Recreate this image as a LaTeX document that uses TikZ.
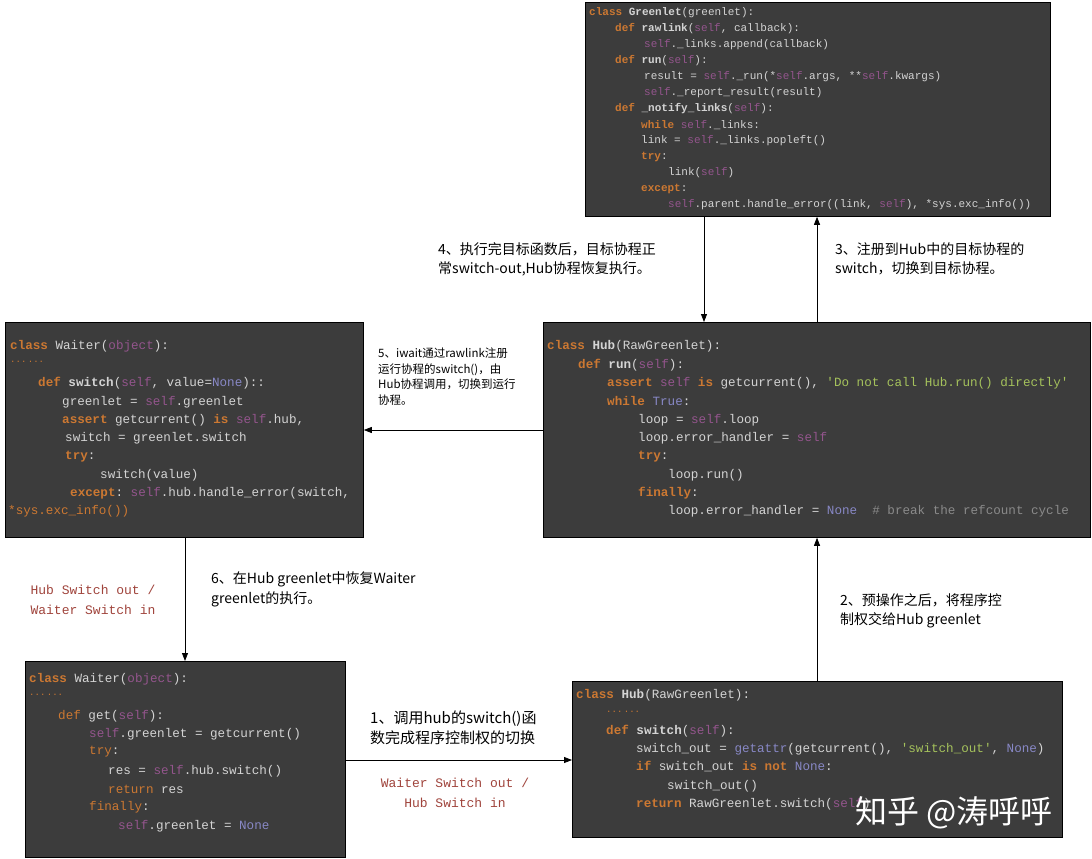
\documentclass[tikz,border=0pt]{standalone}
\usepackage{fontspec}
\setmonofont{Liberation Mono}
\newfontfamily\cjk{Noto Sans CJK SC}
\usetikzlibrary{arrows.meta}
\definecolor{bg}{HTML}{3C3C3C}
\definecolor{kw}{HTML}{CC7832}
\definecolor{sl}{HTML}{94558D}
\definecolor{nn}{HTML}{8888C6}
\definecolor{st}{HTML}{A5C25C}
\definecolor{cm}{HTML}{8A8A8A}
\definecolor{fg}{HTML}{D4D4D4}
\definecolor{lb}{HTML}{A0443C}
\newcommand\K[1]{\textcolor{kw}{\bfseries #1}}
\newcommand\Ko[1]{\textcolor{kw}{#1}}
\newcommand\SL{\textcolor{sl}{self}}
\newcommand\NN{\textcolor{nn}{None}}
\newcommand\DOTS{\textcolor{kw}{\fontsize{9}{9}\selectfont...\,...}}
\newcommand\cl[3]{\node[codeline] at (#1,#2) {#3};}
\begin{document}
\begin{tikzpicture}[x=1pt,y=-1pt,
  box/.style={draw=black,fill=bg,anchor=north west,inner sep=0,line width=0.8pt},
  codeline/.style={anchor=west,inner sep=0,text=fg,font=\ttfamily\fontsize{12.6}{14}\selectfont},
  small/.style={codeline/.append style={font=\ttfamily\fontsize{11}{13}\selectfont}},
  arr/.style={-{Triangle[length=8pt,width=6pt]},line width=0.8pt},
  lab/.style={anchor=north west,inner sep=0,align=left,font=\cjk\fontsize{14}{19.5}\selectfont},
  red/.style={inner sep=0,align=center,text=lb,font=\ttfamily\fontsize{13}{20}\selectfont}]
\useasboundingbox (0,0) rectangle (1092,859);
\fill[white] (0,0) rectangle (1092,859);
% boxes
\node[box,minimum width=465pt,minimum height=214pt] (gl) at (585,2) {};
\node[box,minimum width=358pt,minimum height=215pt] (w1) at (5,322) {};
\node[box,minimum width=547pt,minimum height=215pt] (hr) at (543,322) {};
\node[box,minimum width=320pt,minimum height=196pt] (w2) at (25,661) {};
\node[box,minimum width=490pt,minimum height=156pt] (hs) at (572,681) {};
% Greenlet code
\begin{scope}[small]
\cl{589}{13}{\K{class} \textbf{Greenlet}(greenlet):}
\cl{615}{29}{\K{def} \textbf{rawlink}(\SL, callback):}
\cl{644}{45}{\SL.\_links.append(callback)}
\cl{615}{61}{\K{def} \textbf{run}(\SL):}
\cl{644}{77}{result = \SL.\_run(*\SL.args, **\SL.kwargs)}
\cl{644}{93}{\SL.\_report\_result(result)}
\cl{615}{109}{\K{def} \textbf{\_notify\_links}(\SL):}
\cl{641}{125}{\K{while} \SL.\_links:}
\cl{641}{141}{link = \SL.\_links.popleft()}
\cl{641}{157}{\K{try}:}
\cl{668}{173}{link(\SL)}
\cl{641}{189}{\K{except}:}
\cl{668}{205}{\SL.parent.handle\_error((link, \SL), *sys.exc\_info())}
\end{scope}
% Waiter switch
\cl{10}{346}{\K{class} Waiter(\textcolor{sl}{object}):}
\cl{10}{362}{\DOTS}
\cl{38}{383}{\K{def} \textbf{switch}(\SL, value=\NN)::}
\cl{62}{402}{greenlet = \SL.greenlet}
\cl{62}{420}{\K{assert} getcurrent() \K{is} \SL.hub,}
\cl{65}{438}{switch = greenlet.switch}
\cl{65}{457}{\K{try}:}
\cl{100}{475}{switch(value)}
\cl{70}{493}{\K{except}: \SL.hub.handle\_error(switch,}
\cl{8}{511}{\textcolor{kw}{*sys.exc\_info())}}
% Hub run
\cl{547}{346}{\K{class} \textbf{Hub}(RawGreenlet):}
\cl{578}{365}{\K{def} \textbf{run}(\SL):}
\cl{607}{383}{\K{assert} \SL{} \K{is} getcurrent(), \textcolor{st}{'Do not call Hub.run() directly'}}
\cl{607}{401}{\K{while} \textcolor{nn}{True}:}
\cl{638}{420}{loop = \SL.loop}
\cl{638}{438}{loop.error\_handler = \SL}
\cl{638}{457}{\K{try}:}
\cl{668}{475}{loop.run()}
\cl{638}{493}{\K{finally}:}
\cl{668}{511}{loop.error\_handler = \NN\ \ \textcolor{cm}{\# break the refcount cycle}}
% Waiter get
\cl{29}{679}{\K{class} Waiter(\textcolor{sl}{object}):}
\cl{29}{695}{\DOTS}
\cl{58}{716}{\Ko{def} get(\SL):}
\cl{89}{734}{\SL.greenlet = getcurrent()}
\cl{89}{752}{\Ko{try}:}
\cl{108}{771}{res = \SL.hub.switch()}
\cl{108}{789}{\Ko{return} res}
\cl{89}{807}{\Ko{finally}:}
\cl{118}{826}{\SL.greenlet = \NN}
% Hub switch
\cl{576}{695}{\K{class} \textbf{Hub}(RawGreenlet):}
\cl{606}{712}{\DOTS}
\cl{606}{731}{\K{def} \textbf{switch}(\SL):}
\cl{636}{749}{switch\_out = \textcolor{nn}{getattr}(getcurrent(), \textcolor{st}{'switch\_out'}, \NN)}
\cl{636}{767}{\K{if} switch\_out \K{is} \K{not} \NN:}
\cl{667}{786}{switch\_out()}
\cl{636}{804}{\K{return} RawGreenlet.switch(\SL)}
\node[anchor=west,inner sep=0,text=white,font=\cjk\fontsize{32}{33}\selectfont] (wm) at (855,813) {知乎 @涛呼呼};
% arrows
\draw[arr] (704,0 |- gl.south) -- (704,0 |- hr.north);
\draw[arr] (817,0 |- hr.north) -- (817,0 |- gl.south);
\draw[arr] (0,430 -| hr.west) -- (0,430 -| w1.east);
\draw[arr] (185,0 |- w1.south) -- (185,0 |- w2.north);
\draw[arr] (0,760 -| w2.east) -- (0,760 -| hs.west);
\draw[arr] (817,0 |- hs.north) -- (817,0 |- hr.south);
% labels
\node[lab] (l4) at (438,242) {4、执行完目标函数后，目标协程正\\常switch-out,Hub协程恢复执行。};
\node[lab] (l3) at (835,242) {3、注册到Hub中的目标协程的\\switch，切换到目标协程。};
\node[lab,font=\cjk\fontsize{11.5}{15.5}\selectfont] (l5) at (378,348) {5、iwait通过rawlink注册\\运行协程的switch()，由\\Hub协程调用，切换到运行\\协程。};
\node[red] (r1) at (93,600) {Hub Switch out /\\Waiter Switch in};
\node[lab] (l6) at (211,572) {6、在Hub greenlet中恢复Waiter\\greenlet的执行。};
\node[lab] (l2) at (840,593) {2、预操作之后，将程序控\\制权交给Hub greenlet};
\node[lab,font=\cjk\fontsize{15}{20}\selectfont] (l1) at (370,711) {1、调用hub的switch()函\\数完成程序控制权的切换};
\node[red] (r2) at (455,793) {Waiter Switch out /\\Hub Switch in};
\end{tikzpicture}
\end{document}
